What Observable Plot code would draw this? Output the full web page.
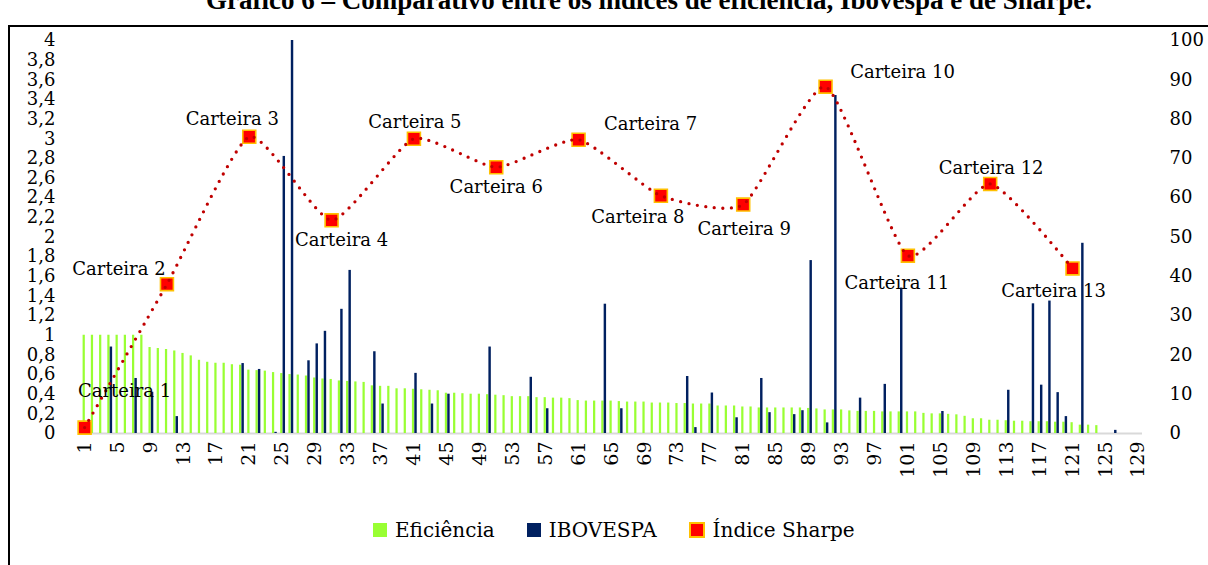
<!DOCTYPE html>
<html>
<head>
<meta charset="utf-8">
<script src="https://cdn.jsdelivr.net/npm/d3@7"></script>
<script src="https://cdn.jsdelivr.net/npm/@observablehq/plot@0.6"></script>
<style>
  html, body { margin: 0; padding: 0; background: #fff; }
  body { width: 1208px; height: 565px; overflow: hidden; position: relative; font-family: "DejaVu Serif", serif; }
  #title { position: absolute; left: 0; width: 1298px; top: -13px; text-align: center; font-family: "Liberation Serif", serif; font-weight: bold; font-size: 27px; line-height: 27px; color: #000; white-space: nowrap; }
  #frame { position: absolute; left: 8px; top: 25px; width: 1400px; height: 800px; border: 2px solid #000; }
  #chart { position: absolute; left: 0; top: 0; }
  #legend { position: absolute; left: 373px; top: 518px; display: flex; align-items: center; font-family: "DejaVu Serif", serif; font-size: 20px; color: #000; white-space: nowrap; }
  .item { display: flex; align-items: center; margin-right: 32px; }
  .sw { width: 14px; height: 14px; margin-right: 8px; box-sizing: border-box; }
</style>
</head>
<body>
<div id="frame"></div>
<div id="title"></div>
<div id="chart"></div>
<div id="legend"></div>
<script>
// ---------- DATA ----------
const titleText = "Gráfico 6 – Comparativo entre os índices de eficiência, Ibovespa e de Sharpe.";
const categories = d3.range(1, 130); // carteiras 1..129
const eficiencia = [
  1, 1, 1, 1, 1, 1, 1, 1,
  0.875, 0.865, 0.855, 0.84, 0.815, 0.79, 0.745, 0.725, 0.715, 0.715, 0.70, 0.695,
  0.645, 0.64, 0.635, 0.62, 0.61, 0.60, 0.595, 0.585, 0.565, 0.555,
  0.55, 0.535, 0.53, 0.525, 0.52, 0.485, 0.48, 0.48, 0.455, 0.455,
  0.45, 0.445, 0.44, 0.435, 0.41, 0.41, 0.405, 0.40, 0.40, 0.395,
  0.39, 0.385, 0.375, 0.375, 0.375, 0.365, 0.365, 0.36, 0.36, 0.355,
  0.335, 0.33, 0.33, 0.33, 0.33, 0.325, 0.32, 0.32, 0.32, 0.31,
  0.31, 0.31, 0.305, 0.305, 0.30, 0.30, 0.30, 0.28, 0.28, 0.28,
  0.27, 0.27, 0.26, 0.26, 0.26, 0.26, 0.26, 0.26, 0.255, 0.25,
  0.24, 0.24, 0.24, 0.23, 0.225, 0.225, 0.225, 0.22, 0.22, 0.22,
  0.22, 0.22, 0.205, 0.20, 0.20, 0.195, 0.19, 0.175, 0.15, 0.15,
  0.135, 0.135, 0.13, 0.125, 0.125, 0.12, 0.12, 0.12, 0.115, 0.115,
  0.11, 0.085, 0.085, 0.08, 0, 0, 0, 0, 0
];
const ibovespaCats = [4, 7, 9, 12, 20, 22, 24, 25, 26, 28, 29, 30, 32, 33, 36, 37, 41, 43, 45,
  50, 55, 57, 64, 66, 74, 75, 77, 80, 83, 84, 87, 88, 89, 91, 92, 95, 98, 100, 105,
  113, 116, 117, 118, 119, 120, 122, 126];
const ibovespaVals = [22, 14, 10.5, 4.3, 17.8, 16.3, 0.3, 70.5, 100, 18.5, 22.8, 26, 31.6, 41.5, 20.8, 7.5, 15.3, 7.5, 10,
  22, 14.3, 6.3, 32.9, 6.3, 14.5, 1.5, 10.3, 4, 14, 5.3, 4.8, 5.8, 44, 2.7, 86, 9, 12.5, 37, 5.6,
  11, 33, 12.3, 33.7, 10.4, 4.3, 48.4, 0.8];
const sharpeCats = [1, 11, 21, 31, 41, 51, 61, 71, 81, 91, 101, 111, 121];
const sharpeVals = [0.06, 1.52, 3.02, 2.17, 3.0, 2.71, 2.99, 2.42, 2.33, 3.53, 1.81, 2.54, 1.68];
const sharpeLabels = ["Carteira 1", "Carteira 2", "Carteira 3", "Carteira 4", "Carteira 5", "Carteira 6",
  "Carteira 7", "Carteira 8", "Carteira 9", "Carteira 10", "Carteira 11", "Carteira 12", "Carteira 13"];
const xTicks = d3.range(1, 130, 4);
const leftTicks = [0, 0.2, 0.4, 0.6, 0.8, 1, 1.2, 1.4, 1.6, 1.8, 2, 2.2, 2.4, 2.6, 2.8, 3, 3.2, 3.4, 3.6, 3.8, 4];
const rightTicks = [0, 10, 20, 30, 40, 50, 60, 70, 80, 90, 100];
const seriesNames = ["Eficiência", "IBOVESPA", "Índice Sharpe"];

// ---------- LAYOUT (label placement, px) ----------
const labelDx = [40, -48, -17, 10, 1, 0, 72, -23, 1, 77, -11, 1, -19];
const labelDy = [-31, -9, -12, 26, -11, 26, -10, 27, 30, -9, 33, -10, 29];
const rightFactor = 25; // 4 on left axis = 100 on right axis

const effData = categories.map((c, i) => ({cat: c, v: eficiencia[i]})).filter(d => d.v > 0);
const ibovData = ibovespaCats.map((c, i) => ({cat: c, v: ibovespaVals[i]}));
const sharpeData = sharpeCats.map((c, i) => ({cat: c, v: sharpeVals[i], label: sharpeLabels[i]}));

const fmt = d => String(Math.round(d * 10) / 10).replace(".", ",");

const labelMarks = sharpeData.map((d, i) => Plot.text([d], {
  x: "cat", y: "v", text: "label", dx: labelDx[i], dy: labelDy[i],
  lineAnchor: "bottom", textAnchor: "middle", fontSize: 18, fill: "#000"
}));

const chart = Plot.plot({
  width: 1208, height: 500,
  marginTop: 40, marginBottom: 67, marginLeft: 80, marginRight: 66,
  style: {fontFamily: "DejaVu Serif", fontSize: "18px", color: "#000", background: "transparent", overflow: "visible"},
  x: {type: "band", domain: categories, padding: 0},
  y: {domain: [0, 4]},
  marks: [
    Plot.ruleY([0], {stroke: "#d9d9d9", strokeWidth: 2}),
    Plot.barY(effData, {x: "cat", y: "v", fill: "#99FF33", insetLeft: 2.6, insetRight: 3.4}),
    Plot.barY(ibovData, {x: "cat", y: d => d.v / rightFactor, fill: "#002060", insetLeft: 5, insetRight: 0.8}),
    Plot.dot(sharpeData, {x: "cat", y: "v", symbol: "square", r: 7.3, fill: "#FF0000", stroke: "#FFC000", strokeWidth: 1.6}),
    Plot.line(sharpeData, {x: "cat", y: "v", curve: "cardinal", tension: 0.45, stroke: "#C00000", strokeWidth: 3.3,
      strokeDasharray: "0 8.5", strokeLinecap: "round"}),
    ...labelMarks,
    Plot.axisY(leftTicks, {anchor: "left", tickSize: 0, tickPadding: 25, tickFormat: fmt, label: null, fontSize: 18}),
    Plot.axisY(rightTicks.map(d => d / rightFactor), {anchor: "right", tickSize: 0, tickPadding: 27,
      tickFormat: d => String(Math.round(d * rightFactor)), label: null, fontSize: 18}),
    Plot.axisX(xTicks, {tickRotate: -90, tickSize: 0, tickPadding: 8, label: null, fontSize: 19})
  ]
});
document.getElementById("chart").appendChild(chart);
document.getElementById("title").textContent = titleText;

// legend
const legend = document.getElementById("legend");
const swStyles = [
  "background:#99FF33;",
  "background:#002060;",
  "background:#FF0000;border:2px solid #FFC000;width:16px;height:16px;"
];
seriesNames.forEach((name, i) => {
  const it = document.createElement("div");
  it.className = "item";
  const sw = document.createElement("div");
  sw.className = "sw";
  sw.setAttribute("style", swStyles[i]);
  const tx = document.createElement("span");
  tx.textContent = name;
  it.appendChild(sw); it.appendChild(tx);
  legend.appendChild(it);
});
</script>
</body>
</html>
